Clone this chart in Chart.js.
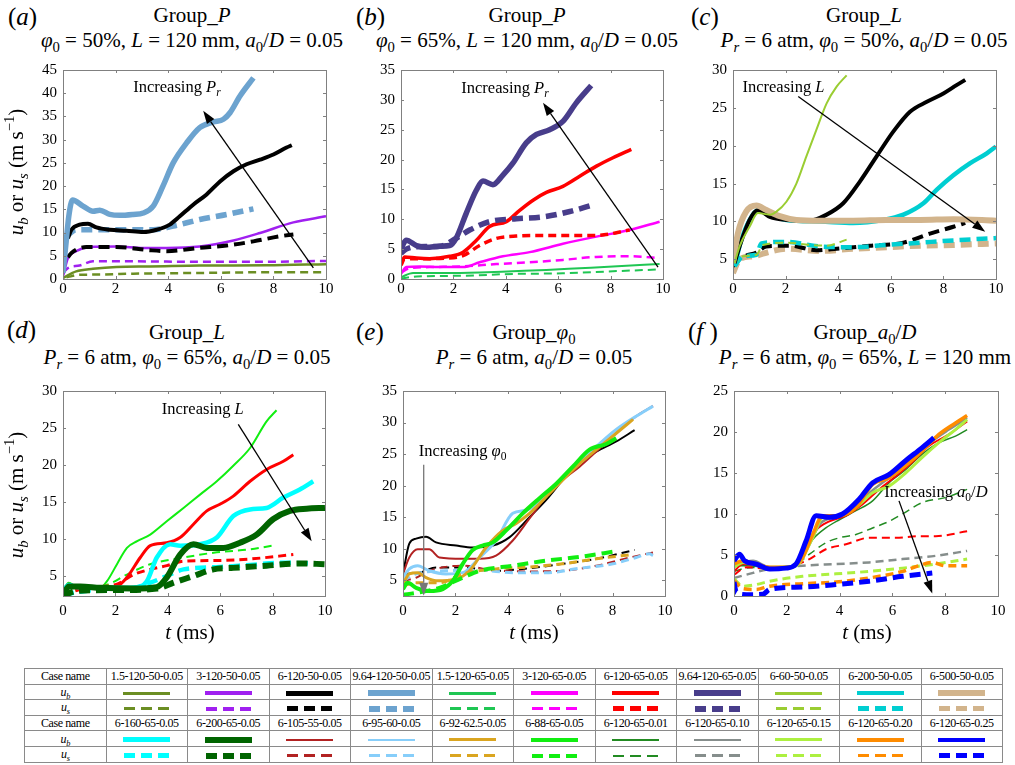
<!DOCTYPE html>
<html>
<head>
<meta charset="utf-8">
<script src="https://cdn.jsdelivr.net/npm/chart.js@4.4.1/dist/chart.umd.min.js"></script>
<style>
  body { margin: 0; background: #fff; }
  #fig { position: relative; width: 1015px; height: 765px; font-family: "Liberation Serif", "Times New Roman", Tinos, Times, "DejaVu Serif", "Noto Serif", serif; color: #000; overflow: hidden; }
  canvas { position: absolute; }
  .plab { position: absolute; font-size: 25px; line-height: 28px; z-index: 2; }
  .ttl { position: absolute; width: 380px; text-align: center; font-size: 21px; line-height: 25px; white-space: nowrap; z-index: 2; }
  .ylab { position: absolute; font-size: 21px; white-space: nowrap; transform: translate(-50%, -50%) rotate(-90deg); z-index: 2; }
  .xlab { position: absolute; font-size: 21px; white-space: nowrap; transform: translate(-50%, -50%); z-index: 2; }
  sub { font-size: 70%; vertical-align: -0.35em; line-height: 0; }
  sup { font-size: 70%; vertical-align: 0.55em; line-height: 0; }
  #legend { position: absolute; left: 24px; top: 668px; width: 979px; border-collapse: collapse; table-layout: fixed; z-index: 2; }
  #legend td { border: 1px solid #8a8a8a; height: 14.6px; padding: 0; text-align: center; font-size: 12px; letter-spacing: -0.4px; line-height: 14px; white-space: nowrap; overflow: hidden; }
  .sol { display: inline-block; width: 47px; vertical-align: middle; }
  .dsh { display: inline-block; width: 11px; margin: 0 3px; vertical-align: middle; }
</style>
</head>
<body>
<div id="fig">
  <div class="plab" style="left:8px;top:3px">(<i>a</i>)</div>
  <div class="plab" style="left:356px;top:3px">(<i>b</i>)</div>
  <div class="plab" style="left:691px;top:3px">(<i>c</i>)</div>
  <div class="plab" style="left:7px;top:316px">(<i>d</i>)</div>
  <div class="plab" style="left:356px;top:318px">(<i>e</i>)</div>
  <div class="plab" style="left:688px;top:318px">(<i>f</i> )</div>

  <div class="ttl" style="left:2px;top:3px">Group_<i>P</i><br><i>φ</i><sub>0</sub> = 50%, <i>L</i> = 120 mm, <i>a</i><sub>0</sub>/<i>D</i> = 0.05</div>
  <div class="ttl" style="left:337px;top:3px">Group_<i>P</i><br><i>φ</i><sub>0</sub> = 65%, <i>L</i> = 120 mm, <i>a</i><sub>0</sub>/<i>D</i> = 0.05</div>
  <div class="ttl" style="left:674px;top:3px">Group_<i>L</i><br><i>P<sub>r</sub></i> = 6 atm, <i>φ</i><sub>0</sub> = 50%, <i>a</i><sub>0</sub>/<i>D</i> = 0.05</div>
  <div class="ttl" style="left:-3px;top:320px">Group_<i>L</i><br><i>P<sub>r</sub></i> = 6 atm, <i>φ</i><sub>0</sub> = 65%, <i>a</i><sub>0</sub>/<i>D</i> = 0.05</div>
  <div class="ttl" style="left:344px;top:320px">Group_<i>φ</i><sub>0</sub><br><i>P<sub>r</sub></i> = 6 atm, <i>a</i><sub>0</sub>/<i>D</i> = 0.05</div>
  <div class="ttl" style="left:675px;top:320px">Group_<i>a</i><sub>0</sub>/<i>D</i><br><i>P<sub>r</sub></i> = 6 atm, <i>φ</i><sub>0</sub> = 65%, <i>L</i> = 120 mm</div>

  <div class="ylab" style="left:16px;top:172px"><i>u<sub>b</sub></i> or <i>u<sub>s</sub></i> (m s<sup>−1</sup>)</div>
  <div class="ylab" style="left:16px;top:495px"><i>u<sub>b</sub></i> or <i>u<sub>s</sub></i> (m s<sup>−1</sup>)</div>
  <div class="xlab" style="left:190px;top:632px"><i>t</i> (ms)</div>
  <div class="xlab" style="left:534px;top:632px"><i>t</i> (ms)</div>
  <div class="xlab" style="left:867px;top:632px"><i>t</i> (ms)</div>

  <table id="legend"></table>
</div>

<script>
/* ====================
   TICKS
==================== */
const xTicks = [0, 2, 4, 6, 8, 10];
const yTicksA = [0, 5, 10, 15, 20, 25, 30, 35, 40, 45];
const yTicksB = [0, 5, 10, 15, 20, 25, 30, 35];
const yTicksC = [5, 10, 15, 20, 25, 30];
const yTicksD = [5, 10, 15, 20, 25, 30];
const yTicksE = [5, 10, 15, 20, 25, 30, 35];
const yTicksF = [0, 5, 10, 15, 20, 25];

/* ====================
   CASES (legend rows)
==================== */
const casesRow1 = ["1.5-120-50-0.05", "3-120-50-0.05", "6-120-50-0.05", "9.64-120-50-0.05", "1.5-120-65-0.05",
  "3-120-65-0.05", "6-120-65-0.05", "9.64-120-65-0.05", "6-60-50-0.05", "6-200-50-0.05", "6-500-50-0.05"];
const casesRow2 = ["6-160-65-0.05", "6-200-65-0.05", "6-105-55-0.05", "6-95-60-0.05", "6-92-62.5-0.05",
  "6-88-65-0.05", "6-120-65-0.01", "6-120-65-0.10", "6-120-65-0.15", "6-120-65-0.20", "6-120-65-0.25"];

/* ====================
   DATA  [t (ms), u (m/s)]
==================== */
// (a) Group_P, phi0 = 50%
const A_964_ub = [[0,1.3],[0.12,8],[0.22,13.5],[0.36,17],[0.76,15.7],[1.14,14.6],[1.4,14.8],[1.78,13.9],[2.16,13.7],[2.67,13.9],[3.05,14.2],[3.43,15.7],[3.8,20],[4.19,25],[4.7,29.3],[5.2,32.6],[5.71,33.8],[6.1,34.4],[6.35,35.8],[6.73,39.4],[7.24,43.3]];
const A_964_us = [[0.13,9.2],[0.5,10.6],[1.4,10.6],[2.67,10.6],[3.43,10.6],[4.19,11.4],[5.2,12.8],[6.22,13.9],[7.24,15.1]];
const A_6_ub = [[0.19,8.8],[0.32,10.6],[0.63,11.7],[0.95,11.9],[1.27,11.1],[1.78,10.6],[2.41,10.4],[3.05,10.1],[3.56,10.6],[4.06,11.7],[4.44,13.5],[4.95,16],[5.46,18.2],[5.97,21],[6.48,23.2],[6.98,24.7],[7.49,25.7],[8,26.8],[8.5,28.3],[8.7,28.8]];
const A_6_us = [[0.19,4.7],[0.32,5.6],[0.89,6.9],[2.03,6.9],[3.3,6.2],[3.94,6],[5.2,6.7],[6.22,7.2],[7.24,8.1],[8.25,9.2],[8.76,9.6]];
const A_3_ub = [[0,0.6],[0.19,4.5],[0.5,6],[1,6.9],[2.03,7],[3.05,6.7],[3.94,6.7],[5.2,7],[6.48,8.3],[7.49,9.9],[8.76,12.2],[10,13.5]];
const A_3_us = [[0,1.3],[0.2,2.4],[0.63,2.9],[1.14,3.8],[2.67,3.8],[5.2,3.7],[7.75,3.7],[10,3.9]];
const A_15_ub = [[0,0.2],[0.5,1.65],[1.14,2.2],[2.03,2.6],[3.3,2.7],[5.2,2.9],[7.75,2.95],[10,3.2]];
const A_15_us = [[0.13,0.35],[0.63,0.9],[1.4,0.95],[2.67,1.15],[5.2,1.3],[7.75,1.45],[10,1.45]];

// (b) Group_P, phi0 = 65%
const B_964_ub = [[0,5.1],[0.2,6.5],[0.59,5.6],[0.97,5.3],[1.48,5.5],[1.86,5.6],[2.1,6.8],[2.49,11],[2.88,14.9],[3.13,16.4],[3.51,15.8],[3.89,17.4],[4.27,19.4],[4.78,22.8],[5.17,24.2],[5.67,25],[6.18,26.4],[6.69,29.5],[7.26,32.4]];
const B_964_us = [[0,4.3],[0.2,5],[0.6,5.4],[1.5,5.5],[2.1,6.8],[2.62,8.2],[3.38,9.6],[4.4,10.1],[5.42,10.4],[6.44,11.3],[7.33,12.4]];
const B_6_ub = [[0,2.5],[0.14,3.7],[0.59,3.5],[1.09,3.4],[1.86,3.8],[2.37,4.5],[2.88,6.5],[3.38,8.8],[4.02,9.6],[4.53,11.5],[5.04,13.2],[5.55,14.5],[6.18,15.5],[6.82,17.2],[7.46,18.9],[8.09,20.3],[8.79,21.7]];
const B_6_us = [[0,2.3],[0.14,3.4],[0.59,3.4],[1.73,3.5],[2.37,3.9],[3,5.6],[3.64,6.8],[4.4,7.2],[5.42,7.3],[6.44,7.3],[7.46,7.3],[8.73,8.2]];
const B_3_ub = [[0,0.85],[0.2,2],[0.71,2.1],[1.48,2],[2.37,2],[3,2.8],[3.89,3.8],[4.91,4.5],[6.18,5.9],[7.46,7.1],[8.73,8.2],[9.87,9.6]];
const B_3_us = [[0,1.1],[0.33,1.8],[1.09,2],[2.37,2.1],[3.64,2.5],[4.91,2.8],[6.18,3.2],[7.46,3.7],[8.73,3.8],[9.87,3.5]];
const B_15_ub = [[0,0.3],[0.46,1],[1.73,1],[3,1.1],[4.27,1.3],[5.55,1.5],[6.82,1.8],[8.09,2.1],[9.87,2.5]];
const B_15_us = [[0,0.1],[0.59,0.4],[2.37,0.55],[4.27,0.85],[6.18,0.95],[8.09,1.3],[9.87,1.6]];

// (c) Group_L, phi0 = 50%
const C_60_ub = [[0.06,4.5],[0.25,6.7],[0.63,9.3],[0.95,11.1],[1.4,10.9],[1.65,11.3],[2.03,12.6],[2.41,15],[2.79,18.6],[3.17,22.1],[3.56,25.6],[3.94,27.8],[4.32,29.3]];
const C_60_us = [[0,4.1],[0.38,5.4],[0.89,5.6],[1.14,6.9],[2.03,7.2],[2.92,6.9],[3.56,6.8],[4.32,7.6]];
const C_120_ub = [[0.06,4.5],[0.25,6.7],[0.63,10.2],[0.95,11.5],[1.4,10.6],[2.03,10.2],[2.92,10.1],[3.56,10.9],[4.19,12.4],[4.83,15.3],[5.46,18.6],[6.1,21.9],[6.73,24.5],[7.37,25.8],[8,26.9],[8.5,28],[8.83,28.7]];
const C_120_us = [[0,4.1],[0.32,5.2],[0.89,5.9],[1.27,6.7],[2.16,6.8],[3.17,6.2],[3.94,6.4],[5.2,6.8],[6.48,7.2],[7.49,8.4],[8.38,9.3],[8.83,9.8]];
const C_200_ub = [[0.06,4.1],[0.32,7.6],[0.7,10.6],[1.02,11.6],[1.4,10.9],[2.03,10.2],[3.3,10],[4.57,9.8],[5.71,10.2],[6.48,10.9],[7.24,12.4],[7.75,14.2],[8.38,16.1],[9.02,17.7],[9.65,19],[10,19.9]];
const C_200_us = [[0.06,4.1],[0.38,5.4],[0.89,5.6],[1.08,7.1],[2.03,7.3],[3.3,6.7],[4.57,6.6],[5.84,6.9],[7.11,7.2],[8.38,7.5],[10,7.8]];
const C_500_ub = [[0,4.5],[0.19,8.5],[0.5,11.3],[0.89,12.1],[1.27,11.5],[1.78,10.7],[2.41,10.2],[3.3,10.1],[4.57,10.1],[5.84,10.2],[7.11,10.2],[8.38,10.3],[10,10.1]];
const C_500_us = [[0,3.2],[0.25,5],[0.76,5.4],[1.4,6],[2.03,6.4],[3.3,6.1],[4.57,6.4],[5.84,6.6],[7.11,6.8],[8.38,6.9],[10,7.1]];

// (d) Group_L, phi0 = 65%
const D_88_ub = [[0,3],[0.22,4.1],[0.53,3.5],[1.04,3.6],[1.42,3.4],[1.68,4.3],[2.06,6.6],[2.44,8.8],[2.83,9.7],[3.33,10.6],[3.96,12.4],[4.6,14.2],[5.23,16],[5.87,17.8],[6.5,19.9],[7.14,22.3],[7.77,25.9],[8.15,27.4]];
const D_88_us = [[0,2.5],[0.91,3.4],[1.68,3.8],[2.44,5.2],[3.33,6.6],[4.6,7.5],[5.87,8.2],[7.14,8.6],[8.15,9.2]];
const D_120_ub = [[0,3],[0.22,3.9],[0.53,3.5],[1.04,3.5],[1.42,3.4],[2.06,3.6],[2.44,4.8],[2.95,7.5],[3.33,9.1],[3.96,9.5],[4.47,10.2],[4.98,12],[5.49,13.8],[5.99,14.7],[6.5,15.8],[7.14,17.8],[7.77,19.4],[8.41,20.5],[8.79,21.4]];
const D_120_us = [[0,2.5],[0.91,3.4],[2.06,3.9],[2.69,5.2],[3.33,5.9],[3.96,6.4],[4.6,7],[5.87,7.1],[7.14,7.3],[8.79,7.9]];
const D_160_ub = [[0,3],[0.22,3.8],[0.53,3.5],[1.42,3.4],[2.69,3.4],[3.2,4.3],[3.58,7.5],[4.09,9.3],[4.47,9.1],[5.23,9.3],[5.87,10.2],[6.5,13.1],[7.14,14],[7.77,14.2],[8.41,15.6],[9.04,16.7],[9.55,17.8]];
const D_160_us = [[0,2.5],[1.42,3.2],[2.69,3.4],[3.33,4.1],[3.96,5],[4.6,5.9],[5.87,6.2],[7.14,6.5],[8.41,6.8],[9.55,6.7]];
const D_200_ub = [[0,2.3],[0.22,3.6],[0.66,3.6],[1.42,3.4],[2.69,3.3],[3.58,3.5],[3.96,4.8],[4.47,7.9],[4.98,9.3],[5.49,8.8],[6.12,8.8],[6.76,9.5],[7.39,10.6],[8.03,12.7],[8.66,13.8],[9.3,14.1],[10,14.2]];
const D_200_us = [[0,2.3],[0.53,3],[2.06,3.1],[3.58,3.3],[4.22,4.1],[4.98,5],[5.74,5.9],[6.5,6.1],[7.77,6.4],[9.04,6.7],[10,6.6]];

// (e) Group_phi0
const E_50_ub = [[0,6],[0.24,10.8],[0.5,11.6],[0.88,11.9],[1.26,11],[2.03,10.5],[2.66,10.2],[3.43,10.5],[4.06,11.8],[4.83,15],[5.46,17.7],[6.1,20.9],[6.74,23.8],[7.38,25.4],[8.14,27],[8.84,28.8]];
const E_50_us = [[0,6],[0.62,6.2],[1.26,7],[2.28,7],[3.55,6.5],[4.83,6.9],[6.1,7.6],[7.38,8.4],[8.84,9.8]];
const E_55_ub = [[0,6],[0.24,8.6],[0.56,9.9],[1,9.9],[1.39,8.6],[2.28,8.4],[2.92,8.4],[3.55,8.9],[4.19,11.3],[4.83,14.8],[5.46,18.2],[6.1,20.9],[6.74,23],[7.38,25.4],[8.14,28.3],[8.9,31],[9.54,32.6]];
const E_55_us = [[0,4.9],[0.5,5.4],[1,6.5],[2.28,7.3],[3.55,6.5],[4.83,6.4],[6.1,6.5],[7.38,7.3],[8.65,8.6],[9.54,9.4]];
const E_60_ub = [[0,5.4],[0.24,6.8],[0.56,7.3],[1,6.5],[1.64,6],[2.28,6.2],[2.92,8.6],[3.55,11.3],[4.19,15.6],[4.7,16.1],[5.08,16.9],[5.46,18.8],[6.1,21.1],[6.74,23.8],[7.38,26.2],[8.14,28.9],[8.9,31],[9.54,32.6]];
const E_60_us = [[0,4.9],[0.5,6],[1.64,6.5],[2.92,6.6],[4.19,6.2],[5.46,6.2],[6.74,6.9],[8.01,7.6],[8.9,8.6],[9.41,9.2],[9.54,8.9]];
const E_625_ub = [[0,4.4],[0.24,6],[0.56,6.2],[0.88,5.4],[1.26,4.9],[2.03,5.2],[2.54,6.5],[3.17,10.2],[3.81,12.9],[4.32,14],[4.83,15.6],[5.46,18.2],[6.1,20.9],[6.74,23.5],[7.38,25.7],[8.14,28.3],[8.78,30.5]];
const E_625_us = [[0,4.1],[0.5,4.6],[1.39,4.6],[2.28,6],[3.55,6.8],[4.83,7.1],[6.1,7.6],[7.38,8.4],[8.78,9.1]];
const E_65_ub = [[0,3.6],[0.18,4.6],[0.5,3.8],[1,3.3],[1.52,3.6],[1.9,4.9],[2.28,7.6],[2.66,9.8],[3.04,10.5],[3.43,11],[3.94,12.9],[4.57,15.6],[5.21,18],[5.85,20.3],[6.48,23],[7.12,25.7],[7.76,26.6],[8.14,27.5]];
const E_65_us = [[0,2.7],[0.5,3],[1.39,3.8],[2.28,5.4],[2.92,6.5],[4.19,7.3],[5.46,8.1],[6.74,8.7],[8.14,9.6]];

// (f) Group_a0/D
const F_01_ub = [[0,3.7],[0.47,3.7],[1.09,3.5],[1.72,3.3],[2.23,3.7],[2.6,5.1],[2.98,6.9],[3.48,8.3],[3.99,9.3],[4.62,10.4],[5.25,11.6],[5.87,13.8],[6.5,15.4],[7.13,17.3],[7.76,18.7],[8.39,19.5],[8.83,20.3]];
const F_01_us = [[0,3],[0.47,3.4],[1.35,3.5],[2.23,3.7],[2.86,5.1],[3.48,6.5],[3.99,7.1],[4.62,7.5],[5.25,8.3],[5.87,9.1],[6.38,10],[7.13,11.4],[8,12],[8.83,13]];
const F_05_ub = [[0,3],[0.34,3.9],[1.09,3.7],[1.85,3.3],[2.35,3.9],[2.73,5.7],[3.11,8],[3.61,9.1],[4.24,9.8],[4.87,11.2],[5.5,13],[6.13,14.6],[6.75,16.3],[7.38,18.3],[8.14,19.7],[8.83,21.3]];
const F_05_us = [[0,2.6],[0.47,3.5],[1.35,3.3],[2.23,3.7],[2.86,4.5],[3.48,5.7],[4.24,6.3],[5.12,7.1],[6.13,7.1],[7,7.3],[7.64,7.3],[8.83,7.9]];
const F_10_ub = [[0,3.9],[0.34,4.1],[0.72,4.3],[1.35,3.5],[1.97,3.5],[2.48,4.3],[2.86,6.3],[3.23,8.7],[3.74,9.6],[4.37,10.4],[4.99,12.2],[5.62,13.8],[6.25,15.2],[6.88,17.1],[7.51,18.9],[8.14,20.3],[8.83,21.7]];
const F_10_us = [[0,2.2],[0.47,2.6],[1.35,3.3],[2.6,3.7],[3.86,3.9],[5.12,4.1],[6.38,4.5],[7.64,4.9],[8.83,5.5]];
const F_15_ub = [[0,3.5],[0.34,4.1],[1.35,3.5],[2.35,3.7],[2.98,7.1],[3.36,9.6],[3.99,9.8],[4.62,10.8],[5.25,12.6],[5.87,13.4],[6.5,15],[7.13,16.9],[7.76,18.7],[8.39,20.3],[8.83,21.5]];
const F_15_us = [[0,2.1],[0.34,1.2],[0.84,1.4],[1.35,1.8],[2.6,2.4],[3.86,2.7],[5.12,3],[6.38,3.4],[7.64,3.9],[8.83,4.5]];
const F_20_ub = [[0,3.9],[0.34,4.3],[0.84,3.9],[1.35,3.5],[2.1,3.5],[2.6,4.7],[2.98,7.5],[3.36,9.8],[3.99,9.8],[4.62,10.8],[5.25,13.6],[5.87,14.4],[6.5,15.9],[7.13,17.7],[7.76,19.7],[8.39,21.1],[8.83,22]];
const F_20_us = [[0,1.9],[0.34,0.9],[0.84,0.8],[1.35,1.2],[2.6,1.5],[3.86,1.7],[5.12,2.2],[6.38,3],[7,3.7],[7.51,4.1],[8,3.7],[8.83,3.7]];
const F_25_ub = [[0,4.3],[0.21,5.1],[0.4,4.3],[0.84,3.9],[1.35,3.3],[1.97,3.4],[2.35,3.9],[2.73,6.7],[3.11,9.8],[3.61,9.6],[4.11,10],[4.74,11.8],[5.25,13.8],[5.87,14.8],[6.5,16.5],[7.13,18.1],[7.57,19.3]];
const F_25_us = [[0,1.7],[0.09,0.4],[0.47,0.15],[1.09,0.2],[1.35,0.8],[2.6,1.1],[3.86,1.4],[5.12,1.8],[6.38,2.4],[7.51,2.8]];

/* ====================
   STYLES (colour, plot width, legend width)
==================== */
const S = {
  "1.5-120-50-0.05": { c: "#6b8e23", w: 2.5, lw: 3 },
  "3-120-50-0.05": { c: "#a020f0", w: 2.5, lw: 4 },
  "6-120-50-0.05": { c: "#000000", w: 4, lw: 5 },
  "9.64-120-50-0.05": { c: "#6ca3cf", w: 5.5, lw: 6 },
  "1.5-120-65-0.05": { c: "#1fc653", w: 2, lw: 3 },
  "3-120-65-0.05": { c: "#ff00ff", w: 2.5, lw: 3.5 },
  "6-120-65-0.05": { c: "#ff0000", w: 3.5, lw: 4.5 },
  "9.64-120-65-0.05": { c: "#483d8b", w: 5.5, lw: 6 },
  "6-60-50-0.05": { c: "#9acd32", w: 2, lw: 3 },
  "6-200-50-0.05": { c: "#00ced1", w: 4.5, lw: 4.5 },
  "6-500-50-0.05": { c: "#d2b48c", w: 6, lw: 5.5 },
  "6-160-65-0.05": { c: "#00ffff", w: 4.5, lw: 5 },
  "6-200-65-0.05": { c: "#006400", w: 6, lw: 6 },
  "6-105-55-0.05": { c: "#b22222", w: 2, lw: 2.5 },
  "6-95-60-0.05": { c: "#87cefa", w: 3, lw: 2.5 },
  "6-92-62.5-0.05": { c: "#daa520", w: 3, lw: 3 },
  "6-88-65-0.05": { c: "#11ee11", w: 4, lw: 4 },
  "6-120-65-0.01": { c: "#228b22", w: 1.5, lw: 2 },
  "6-120-65-0.10": { c: "#868e8c", w: 2.5, lw: 2.5 },
  "6-120-65-0.15": { c: "#adf040", w: 3, lw: 3 },
  "6-120-65-0.20": { c: "#ff8c00", w: 3.5, lw: 3.5 },
  "6-120-65-0.25": { c: "#0000ff", w: 5, lw: 4.5 }
};

/* ====================
   HELPERS
==================== */
const SERIF = '"Liberation Serif", "Times New Roman", Tinos, Times, "DejaVu Serif", "Noto Serif", serif';

function line(pts, name, dashed, wOverride) {
  const s = S[name];
  const w = wOverride || s.w;
  return {
    data: pts.map(p => ({ x: p[0], y: p[1] })),
    borderColor: s.c,
    borderWidth: w,
    borderDash: dashed ? (w >= 4 ? [11, 6] : [8, 5]) : [],
    pointRadius: 0,
    fill: false
  };
}

const I = (s) => ({ s, it: true });
const N = (s) => ({ s, it: false });
const Sb = (s) => ({ s, it: true, sub: true });
const Sn = (s) => ({ s, it: false, sub: true });

function drawRich(ctx, x, y, parts, size) {
  let cx = x;
  ctx.textBaseline = "middle";
  ctx.textAlign = "left";
  parts.forEach(p => {
    const fs = p.sub ? size * 0.7 : size;
    ctx.font = `${p.it ? "italic " : ""}${fs}px ${SERIF}`;
    ctx.fillText(p.s, cx, p.sub ? y + size * 0.32 : y);
    cx += ctx.measureText(p.s).width;
  });
}

const framePlugin = {
  id: "frame",
  afterDatasetsDraw(chart) {
    const { ctx, chartArea: a, scales: { x, y } } = chart;
    ctx.save();
    ctx.strokeStyle = "#808080";
    ctx.lineWidth = 1;
    ctx.strokeRect(a.left + 0.5, a.top + 0.5, a.right - a.left, a.bottom - a.top);
    ctx.beginPath();
    x.ticks.forEach(t => {
      const px = Math.round(x.getPixelForValue(t.value)) + 0.5;
      ctx.moveTo(px, a.bottom); ctx.lineTo(px, a.bottom - 3);
      ctx.moveTo(px, a.top); ctx.lineTo(px, a.top + 3);
    });
    y.ticks.forEach(t => {
      const py = Math.round(y.getPixelForValue(t.value)) + 0.5;
      ctx.moveTo(a.left, py); ctx.lineTo(a.left + 3, py);
      ctx.moveTo(a.right, py); ctx.lineTo(a.right - 3, py);
    });
    ctx.stroke();
    ctx.restore();
  }
};

function makeAnnot(spec) {
  return {
    id: "annot",
    afterDatasetsDraw(chart) {
      const { ctx, scales: { x, y } } = chart;
      ctx.save();
      const x0 = x.getPixelForValue(spec.from[0]), y0 = y.getPixelForValue(spec.from[1]);
      const x1 = x.getPixelForValue(spec.to[0]), y1 = y.getPixelForValue(spec.to[1]);
      const ang = Math.atan2(y1 - y0, x1 - x0);
      const hl = 13, hw = 4.5;
      ctx.strokeStyle = spec.color;
      ctx.fillStyle = spec.color;
      ctx.lineWidth = 1.3;
      ctx.beginPath();
      ctx.moveTo(x0, y0);
      ctx.lineTo(x1 - hl * Math.cos(ang), y1 - hl * Math.sin(ang));
      ctx.stroke();
      ctx.beginPath();
      ctx.moveTo(x1, y1);
      ctx.lineTo(x1 - hl * Math.cos(ang) + hw * Math.sin(ang), y1 - hl * Math.sin(ang) - hw * Math.cos(ang));
      ctx.lineTo(x1 - hl * Math.cos(ang) - hw * Math.sin(ang), y1 - hl * Math.sin(ang) + hw * Math.cos(ang));
      ctx.closePath();
      ctx.fill();
      ctx.fillStyle = "#000";
      drawRich(ctx, x.getPixelForValue(spec.at[0]), y.getPixelForValue(spec.at[1]), spec.parts, 16.5);
      ctx.restore();
    }
  };
}

/* ====================
   PANELS
==================== */
const PAD_L = 48, PAD_T = 12, PAD_R = 14, PAD_B = 30;

const panels = [
  {
    box: [63, 70, 326, 279], y: [0, 45], yt: yTicksA, xPad: 1,
    sets: [
      line(A_964_ub, "9.64-120-50-0.05"), line(A_6_ub, "6-120-50-0.05"),
      line(A_964_us, "9.64-120-50-0.05", true), line(A_6_us, "6-120-50-0.05", true),
      line(A_3_ub, "3-120-50-0.05"), line(A_3_us, "3-120-50-0.05", true),
      line(A_15_ub, "1.5-120-50-0.05"), line(A_15_us, "1.5-120-50-0.05", true)
    ],
    annot: { from: [9.52, 2.4], to: [5.33, 36.2], color: "#000", at: [2.67, 41.2], parts: [N("Increasing "), I("P"), Sb("r")] }
  },
  {
    box: [401, 70, 663, 279], y: [0, 35], yt: yTicksB, xPad: 1,
    sets: [
      line(B_964_ub, "9.64-120-65-0.05"), line(B_964_us, "9.64-120-65-0.05", true),
      line(B_6_ub, "6-120-65-0.05"), line(B_6_us, "6-120-65-0.05", true),
      line(B_3_ub, "3-120-65-0.05"), line(B_3_us, "3-120-65-0.05", true),
      line(B_15_ub, "1.5-120-65-0.05"), line(B_15_us, "1.5-120-65-0.05", true)
    ],
    annot: { from: [9.81, 2.0], to: [5.42, 29.5], color: "#000", at: [2.3, 31.8], parts: [N("Increasing "), I("P"), Sb("r")] }
  },
  {
    box: [733, 70, 996, 279], y: [2.4, 30], yt: yTicksC, xPad: 1,
    sets: [
      line(C_60_ub, "6-60-50-0.05"), line(C_500_ub, "6-500-50-0.05"),
      line(C_120_ub, "6-120-50-0.05"), line(C_200_ub, "6-200-50-0.05"),
      line(C_60_us, "6-60-50-0.05", true), line(C_200_us, "6-200-50-0.05", true),
      line(C_120_us, "6-120-50-0.05", true), line(C_500_us, "6-500-50-0.05", true)
    ],
    annot: { from: [2.48, 26.5], to: [9.59, 8.65], color: "#000", at: [0.36, 27.7], parts: [N("Increasing "), I("L")] }
  },
  {
    box: [63, 391, 325, 596], y: [2.3, 30], yt: yTicksD, xPad: 6,
    sets: [
      line(D_200_ub, "6-200-65-0.05"), line(D_200_us, "6-200-65-0.05", true),
      line(D_160_ub, "6-160-65-0.05"), line(D_160_us, "6-160-65-0.05", true),
      line(D_120_ub, "6-120-65-0.05", false, 3), line(D_120_us, "6-120-65-0.05", true, 3),
      line(D_88_ub, "6-88-65-0.05", false, 2), line(D_88_us, "6-88-65-0.05", true, 2)
    ],
    annot: { from: [6.69, 25.5], to: [9.49, 9.7], color: "#000", at: [3.77, 27.5], parts: [N("Increasing "), I("L")] }
  },
  {
    box: [403, 391, 665, 596], y: [2.5, 35], yt: yTicksE, xPad: 6,
    sets: [
      line(E_65_ub, "6-88-65-0.05"), line(E_65_us, "6-88-65-0.05", true),
      line(E_625_ub, "6-92-62.5-0.05"), line(E_625_us, "6-92-62.5-0.05", true),
      line(E_60_ub, "6-95-60-0.05"), line(E_60_us, "6-95-60-0.05", true),
      line(E_55_ub, "6-105-55-0.05"), line(E_55_us, "6-105-55-0.05", true),
      line(E_50_ub, "6-120-50-0.05", false, 2), line(E_50_us, "6-120-50-0.05", true, 2)
    ],
    annot: { from: [0.79, 23.3], to: [0.79, 2.55], color: "#777", at: [0.6, 25.4], parts: [N("Increasing "), I("φ"), Sn("0")] }
  },
  {
    box: [734, 391, 998, 596], y: [0, 25], yt: yTicksF, xPad: 6,
    sets: [
      line(F_25_ub, "6-120-65-0.25"), line(F_25_us, "6-120-65-0.25", true),
      line(F_20_ub, "6-120-65-0.20"), line(F_20_us, "6-120-65-0.20", true),
      line(F_15_ub, "6-120-65-0.15"), line(F_15_us, "6-120-65-0.15", true),
      line(F_10_ub, "6-120-65-0.10"), line(F_10_us, "6-120-65-0.10", true),
      line(F_05_ub, "6-120-65-0.05", false, 2), line(F_05_us, "6-120-65-0.05", true, 2),
      line(F_01_ub, "6-120-65-0.01"), line(F_01_us, "6-120-65-0.01", true)
    ],
    annot: { from: [6.25, 11.6], to: [7.51, 0.3], color: "#000", at: [5.69, 12.6], parts: [N("Increasing "), I("a"), Sn("0"), N("/"), I("D")] }
  }
];

const fig = document.getElementById("fig");
const tickFont = { family: SERIF, size: 15 };

panels.forEach(p => {
  const [l, t, r, b] = p.box;
  const canvas = document.createElement("canvas");
  canvas.width = (r - l) + PAD_L + PAD_R;
  canvas.height = (b - t) + PAD_T + PAD_B;
  canvas.style.left = (l - PAD_L) + "px";
  canvas.style.top = (t - PAD_T) + "px";
  fig.appendChild(canvas);

  new Chart(canvas, {
    type: "line",
    data: { datasets: p.sets },
    options: {
      responsive: false,
      animation: false,
      devicePixelRatio: 1,
      layout: { padding: { left: 0, top: PAD_T, right: PAD_R, bottom: 0 } },
      plugins: { legend: { display: false }, tooltip: { enabled: false } },
      elements: { line: { cubicInterpolationMode: "monotone", borderCapStyle: "butt" } },
      scales: {
        x: {
          type: "linear", min: 0, max: 10,
          grid: { display: false, drawTicks: false },
          border: { display: false },
          ticks: { font: tickFont, color: "#000", padding: p.xPad, maxRotation: 0, autoSkip: false },
          afterBuildTicks: s => { s.ticks = xTicks.map(v => ({ value: v })); },
          afterFit: s => { s.height = PAD_B; s.paddingLeft = 0; s.paddingRight = 0; }
        },
        y: {
          type: "linear", min: p.y[0], max: p.y[1],
          grid: { display: false, drawTicks: false },
          border: { display: false },
          ticks: { font: tickFont, color: "#000", padding: 6, autoSkip: false },
          afterBuildTicks: s => { s.ticks = p.yt.map(v => ({ value: v })); },
          afterFit: s => { s.width = PAD_L; s.paddingTop = 0; s.paddingBottom = 0; }
        }
      }
    },
    plugins: [framePlugin, makeAnnot(p.annot)]
  });
});

/* ====================
   LEGEND TABLE
==================== */
const legendEl = document.getElementById("legend");
let html = "";
[casesRow1, casesRow2].forEach(names => {
  html += "<tr><td>Case name</td>" + names.map(n => `<td>${n}</td>`).join("") + "</tr>";
  html += "<tr><td><i>u<sub>b</sub></i></td>" + names.map(n =>
    `<td><span class="sol" style="height:${S[n].lw}px;background:${S[n].c}"></span></td>`).join("") + "</tr>";
  html += "<tr><td><i>u<sub>s</sub></i></td>" + names.map(n =>
    `<td>${[0, 1, 2].map(() => `<span class="dsh" style="height:${S[n].lw}px;background:${S[n].c}"></span>`).join("")}</td>`).join("") + "</tr>";
});
legendEl.innerHTML = html;
</script>
</body>
</html>
